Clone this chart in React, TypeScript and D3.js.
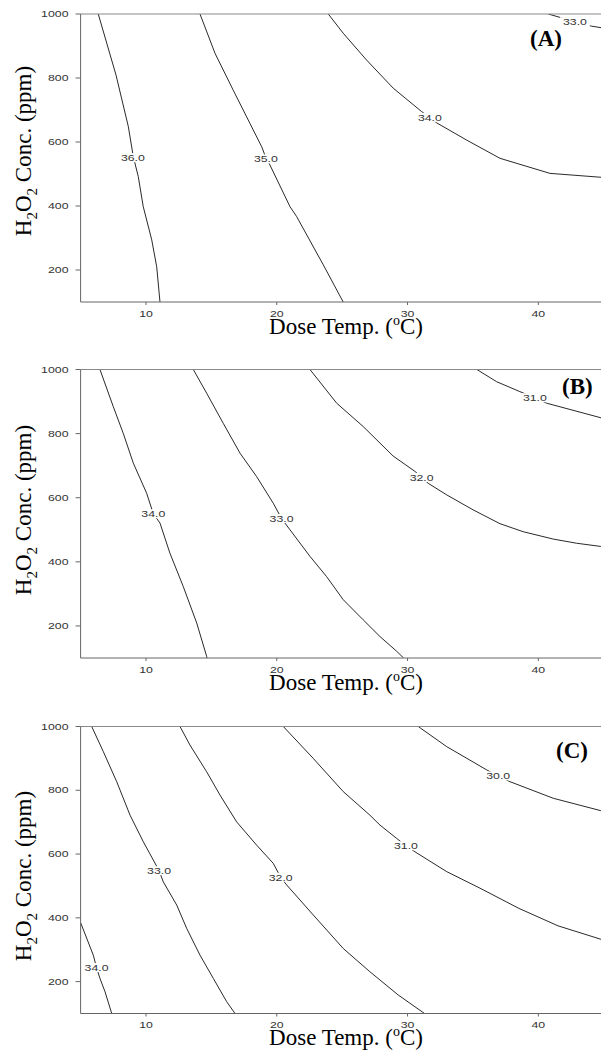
import React from 'react';
import * as d3 from 'd3';

type Pt = [number, number];

// Axis ticks
const X_TICKS = [10, 20, 30, 40];
const Y_TICKS = [200, 400, 600, 800, 1000];
const X_DOMAIN: Pt = [5, 45];
const Y_DOMAIN: Pt = [100, 1000];

// Panel A contours: [Dose Temp (°C), H2O2 conc (ppm)]
const contA36: Pt[] = [[6.35, 1000], [7.71, 809], [8.65, 648], [9.03, 554], [9.41, 492], [9.79, 398], [10.44, 294], [10.82, 210], [11.07, 100]];
const contA35: Pt[] = [[14.13, 1000], [15.28, 877], [16.67, 762], [17.95, 658], [18.85, 585], [19.2, 547], [19.48, 528], [21.01, 398], [21.52, 367], [23.56, 216], [25.08, 100]];
const contA34: Pt[] = [[23.94, 1000], [25.08, 940], [26.87, 856], [28.91, 768], [31.08, 695], [31.71, 677], [32.22, 660], [34.52, 606], [37.07, 549], [40.89, 502], [44.71, 490], [45, 489]];
const contA33: Pt[] = [[40.76, 1000], [42.8, 976], [44.07, 962], [45, 956]];
const labA: Pt[] = [[9.0, 551], [19.17, 547], [31.71, 677], [42.8, 976]];
const labTextA = ['36.0', '35.0', '34.0', '33.0'];

// Panel B contours
const contB34: Pt[] = [[6.48, 1000], [7.5, 884], [8.26, 801], [9.03, 708], [10.05, 614], [10.56, 550], [11.07, 521], [11.83, 427], [12.85, 323], [13.88, 209], [14.64, 105], [14.66, 100]];
const contB33: Pt[] = [[13.62, 1000], [14.64, 926], [15.91, 832], [17.19, 739], [18.46, 666], [19.73, 583], [20.37, 535], [21.01, 500], [22.54, 417], [23.81, 354], [25.08, 282], [26.61, 219], [27.89, 167], [29.17, 121], [29.7, 100]];
const contB32: Pt[] = [[22.54, 1000], [24.58, 895], [26.61, 822], [28.9, 730], [30.57, 682], [31.08, 663], [31.58, 645], [32.99, 609], [35.02, 562], [37.07, 519], [38.84, 494], [41.14, 471], [42.93, 458], [44.78, 448], [45, 447]];
const contB31: Pt[] = [[35.3, 1000], [36.81, 962], [38.59, 931], [39.74, 912], [40.63, 895], [45, 847]];
const labB: Pt[] = [[10.56, 550], [20.37, 535], [31.08, 663], [39.74, 912]];
const labTextB = ['34.0', '33.0', '32.0', '31.0'];

// Panel C contours
const contC34: Pt[] = [[5, 385], [5.97, 283], [6.22, 244], [6.48, 210], [6.87, 168], [7.38, 100]];
const contC33: Pt[] = [[5.85, 1000], [6.74, 921], [7.76, 827], [8.78, 722], [9.79, 639], [11.0, 548], [11.32, 513], [12.35, 440], [13.11, 367], [14.13, 283], [15.15, 210], [16.17, 137], [16.81, 100]];
const contC32: Pt[] = [[12.6, 1000], [13.36, 942], [14.64, 858], [15.66, 785], [16.93, 701], [18.46, 628], [19.73, 571], [20.3, 527], [20.76, 503], [22.79, 409], [25.08, 304], [27.12, 231], [29.29, 158], [31.3, 100]];
const contC31: Pt[] = [[20.5, 1000], [22.79, 900], [25.08, 796], [27.12, 722], [27.89, 691], [29.17, 649], [29.88, 626], [30.57, 607], [32.99, 545], [35.54, 493], [38.5, 430], [41.5, 375], [45, 330]];
const contC30: Pt[] = [[30.82, 1000], [32.99, 937], [36.05, 864], [36.93, 845], [37.83, 827], [41.14, 775], [44.78, 736], [45, 734]];
const labC: Pt[] = [[6.22, 244], [11.0, 548], [20.3, 527], [29.88, 626], [36.93, 845]];
const labTextC = ['34.0', '33.0', '32.0', '31.0', '30.0'];

const panels = [
  { tag: '(A)', top: 14, bottom: 302, lines: [contA36, contA35, contA34, contA33], labs: labA, labText: labTextA, tagX: 530, tagY: 46, titleY: 151 },
  { tag: '(B)', top: 369.5, bottom: 658, lines: [contB34, contB33, contB32, contB31], labs: labB, labText: labTextB, tagX: 562, tagY: 394, titleY: 510 },
  { tag: '(C)', top: 726.5, bottom: 1013.5, lines: [contC34, contC33, contC32, contC31, contC30], labs: labC, labText: labTextC, tagX: 556, tagY: 758, titleY: 876 },
];

const SANS = "'Liberation Sans', Arial, sans-serif";
const SERIF = "'Liberation Serif', 'Times New Roman', serif";

function Small({ x, y, anchor, children }: { x: number; y: number; anchor: string; children: React.ReactNode }) {
  return (
    <g transform={`translate(${x},${y})`}>
      <text transform="scale(1.45,1)" textAnchor={anchor} dominantBaseline="central" fontSize={8.5} fontFamily={SANS} fill="#333">
        {children}
      </text>
    </g>
  );
}

export default function App() {
  const x = d3.scaleLinear().domain(X_DOMAIN).range([80.6, 603.7]);
  const L = 80.6;
  const R = 604;
  return (
    <svg width={601} height={1059} style={{ position: 'absolute', left: 0, top: 0 }}>
      <rect width={601} height={1059} fill="#fff" />
      {panels.map((p, pi) => {
        const y = d3.scaleLinear().domain(Y_DOMAIN).range([p.bottom, p.top]);
        const line = d3.line<Pt>().x(d => x(d[0])).y(d => y(d[1]));
        const clipId = `clip${pi}`;
        return (
          <g key={pi}>
            <defs>
              <clipPath id={clipId}>
                <rect x={L} y={p.top} width={R - L} height={p.bottom - p.top} />
              </clipPath>
            </defs>
            <g clipPath={`url(#${clipId})`}>
              {p.lines.map((c, i) => (
                <path key={i} d={line(c) || ''} fill="none" stroke="#111" strokeWidth={0.9} />
              ))}
            </g>
            {p.labs.map((l, i) => (
              <g key={i}>
                <rect x={x(l[0]) - 15} y={y(l[1]) - 4.5} width={30} height={9} fill="#fff" />
                <Small x={x(l[0])} y={y(l[1])} anchor="middle">{p.labText[i]}</Small>
              </g>
            ))}
            {/* axes */}
            <line x1={L} x2={R} y1={p.top} y2={p.top} stroke="#888" strokeWidth={1} />
            <line x1={L} x2={L} y1={p.top} y2={p.bottom} stroke="#666" strokeWidth={1} />
            <line x1={L} x2={R} y1={p.bottom} y2={p.bottom} stroke="#666" strokeWidth={1} />
            {Y_TICKS.map(t => (
              <g key={t}>
                <line x1={L - 5} x2={L} y1={y(t)} y2={y(t)} stroke="#666" />
                <Small x={68.5} y={y(t)} anchor="end">{t}</Small>
              </g>
            ))}
            {X_TICKS.map(t => (
              <g key={t}>
                <line x1={x(t)} x2={x(t)} y1={p.bottom} y2={p.bottom + 3} stroke="#666" />
                <Small x={x(t)} y={p.bottom + 11.5} anchor="middle">{t}</Small>
              </g>
            ))}
            <text x={346} y={p.bottom + 31.5} textAnchor="middle" fontFamily={SERIF} fontSize={23} fill="#000">
              Dose Temp. (<tspan dy={-9} fontSize={14}>o</tspan><tspan dy={9}>C)</tspan>
            </text>
            <text transform={`translate(31,${p.titleY}) rotate(-90)`} textAnchor="middle" fontFamily={SERIF} fontSize={23} fill="#000">
              H<tspan fontSize={15} dy={6}>2</tspan><tspan dy={-6}>O</tspan><tspan fontSize={15} dy={6}>2</tspan><tspan dy={-6}> Conc. (ppm)</tspan>
            </text>
            <text x={p.tagX} y={p.tagY} fontFamily={SERIF} fontWeight="bold" fontSize={23} fill="#000">{p.tag}</text>
          </g>
        );
      })}
    </svg>
  );
}
